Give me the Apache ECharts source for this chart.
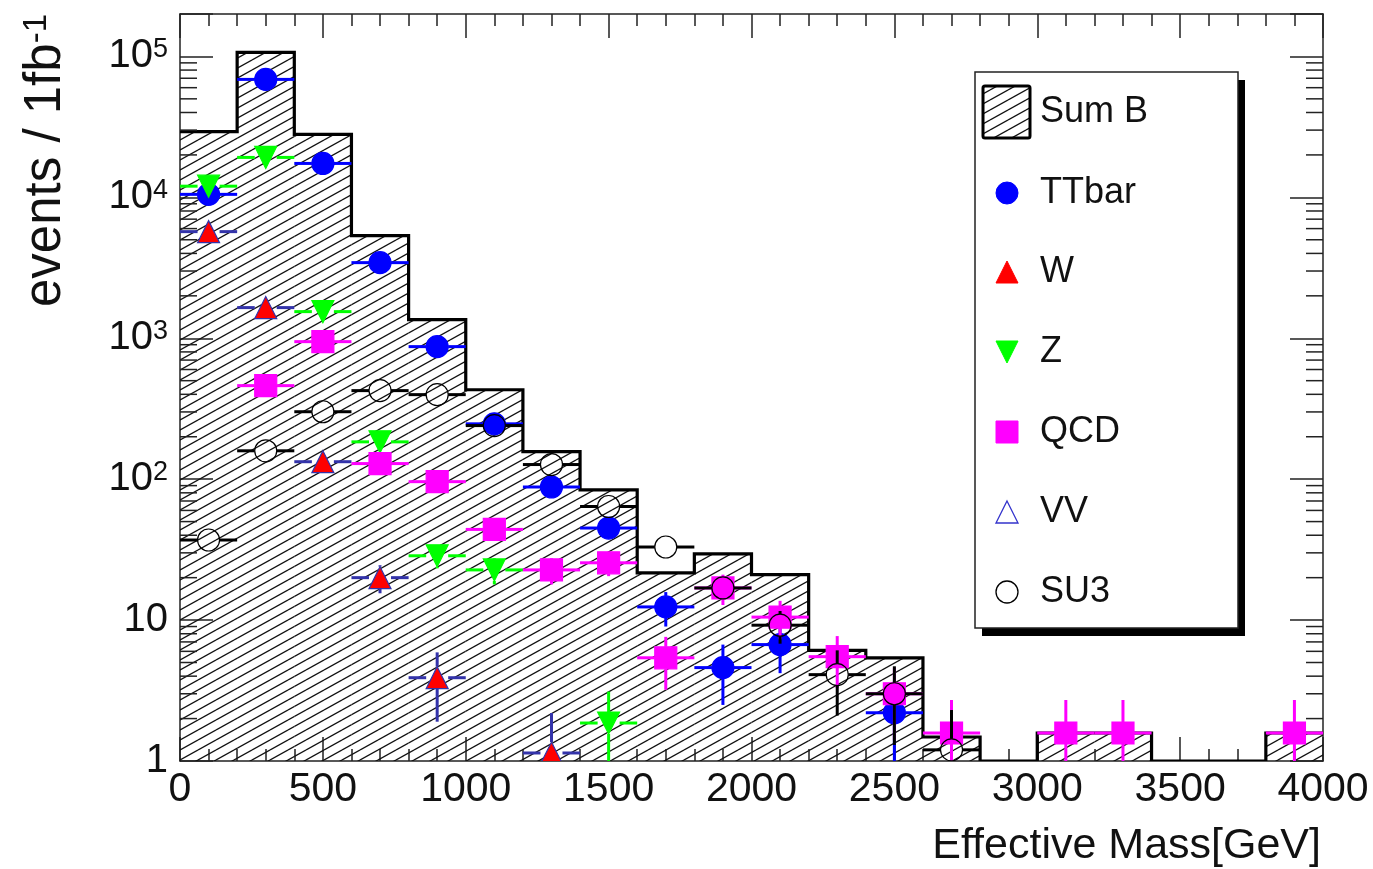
<!DOCTYPE html>
<html><head><meta charset="utf-8">
<script src="https://cdn.jsdelivr.net/npm/echarts@6/dist/echarts.min.js"></script>
<style>html,body{margin:0;padding:0;background:#fff}#c{width:1373px;height:869px}</style>
</head><body><div id="c"></div>
<script>
// ---------------- data ----------------
const binCenters = [100,300,500,700,900,1100,1300,1500,1700,1900,2100,2300,2500,2700,2900,3100,3300,3500,3700,3900];
const binWidth = 200;
const xTickLabels = ['0','500','1000','1500','2000','2500','3000','3500','4000'];
const sumB = [29300,107000,28000,5350,1355,431,157,84,21.6,29.5,21,6.1,5.4,1.48,0,1.58,1.58,0,0,1.58];
const ttbar    = [10500,68700,17400,3440,872,247,88,45,12.4,4.6,6.7,null,2.2,null,null,null,null,null,null,null];
const ttbarErr = [100,260,130,60,30,16,9.4,6.7,3.4,2.1,2.5,null,1.5,null,null,null,null,null,null,null];
const wjets    = [5710,1650,133,20,3.9,null,1.14,null,null,null,null,null,null,null,null,null,null,null,null,null];
const wjetsErr = [75,40,11,4.5,2.0,null,1.05,null,null,null,null,null,null,null,null,null,null,null,null,null];
const zjets    = [12000,19200,1545,184,28.6,22.7,null,1.86,null,null,null,null,null,null,null,null,null,null,null,null];
const zjetsErr = [110,140,40,13.6,5.3,4.8,null,1.25,null,null,null,null,null,null,null,null,null,null,null,null];
const qcd      = [null,461,946,129,96,44,22.7,25.5,5.4,16.9,10.5,5.5,3.0,1.58,null,1.58,1.58,null,null,1.58];
const qcdErr   = [null,21,31,11,9.8,6.6,4.8,5.0,2.2,4.1,3.2,2.2,1.6,1.13,null,1.13,1.13,null,null,1.13];
const vv       = [null,null,null,null,null,null,null,null,null,null,null,null,null,null,null,null,null,null,null,null];
const vvErr    = [null,null,null,null,null,null,null,null,null,null,null,null,null,null,null,null,null,null,null,null];
const su3      = [37,159,301,425,398,240,127,64,33,16.9,9.2,4.1,3.0,1.2,null,null,null,null,null,null];
const su3Err   = [2.4,5,7,8.2,8,6.2,4.5,3.2,2.3,1.6,2.4,2.0,1.7,1.1,null,null,null,null,null,null];
const legendNames = ['Sum B','TTbar','W','Z','QCD','VV','SU3'];
const yTitle = 'events / 1fb';
const xTitle = 'Effective Mass[GeV]';

// ---------------- styling ----------------
const FONT = '"Liberation Sans", Arial, Helvetica, sans-serif';
const Y_MIN = 1, Y_MAX = 200000;

function hatchCanvas(){
  const W = 18, H = 10;
  const c = document.createElement('canvas'); c.width = W; c.height = H;
  const g = c.getContext('2d');
  g.strokeStyle = '#111'; g.lineWidth = 1.3;
  for (const dx of [-W, 0, W]) for (const dy of [-H, 0, H]) {
    g.beginPath(); g.moveTo(dx, dy + H); g.lineTo(dx + W, dy); g.stroke();
  }
  return c;
}
const HATCH = {image: hatchCanvas(), repeat: 'repeat'};

const chart = echarts.init(document.getElementById('c'), null, {renderer: 'canvas'});

function markerShape(kind, cx, cy, s, fill, stroke, lw){
  const h = s / 2;
  if (kind === 'circle') return {type:'circle', shape:{cx, cy, r:h}, style:{fill, stroke, lineWidth:lw}};
  if (kind === 'square') return {type:'rect', shape:{x:cx-h, y:cy-h, width:s, height:s}, style:{fill, stroke, lineWidth:lw}};
  if (kind === 'up') return {type:'polygon', shape:{points:[[cx,cy-h],[cx+h,cy+h],[cx-h,cy+h]]}, style:{fill, stroke, lineWidth:lw}};
  if (kind === 'down') return {type:'polygon', shape:{points:[[cx,cy+h],[cx+h,cy-h],[cx-h,cy-h]]}, style:{fill, stroke, lineWidth:lw}};
}

function pointSeries(name, vals, errs, kind, fill, stroke, barColor, z){
  const data = [];
  vals.forEach((v, i) => { if (v != null) data.push([binCenters[i], v, errs[i] || 0]); });
  return {
    type: 'custom', name, data, z, clip: true,
    encode: {x: 0, y: 1},
    renderItem(params, api){
      const x = api.value(0), y = api.value(1), e = api.value(2);
      const c = api.coord([x, y]);
      const l = api.coord([x - binWidth/2, y]);
      const r = api.coord([x + binWidth/2, y]);
      const hi = api.coord([x, y + e]);
      const lo = api.coord([x, Math.max(y - e, Y_MIN)]);
      const s = 22, h = s/2;
      const ls = {stroke: barColor, lineWidth: 3};
      const ch = [];
      if (c[0] - h > l[0]) ch.push({type:'line', shape:{x1:l[0], y1:c[1], x2:c[0]-h, y2:c[1]}, style:ls});
      if (r[0] > c[0] + h) ch.push({type:'line', shape:{x1:c[0]+h, y1:c[1], x2:r[0], y2:c[1]}, style:ls});
      if (c[1] - hi[1] > h) ch.push({type:'line', shape:{x1:c[0], y1:hi[1], x2:c[0], y2:c[1]-h}, style:ls});
      if (lo[1] - c[1] > h) ch.push({type:'line', shape:{x1:c[0], y1:c[1]+h, x2:c[0], y2:lo[1]}, style:ls});
      ch.push(markerShape(kind, c[0], c[1], s, fill, stroke, 1.2));
      return {type:'group', children: ch};
    }
  };
}

// histogram fill
const histData = [];
sumB.forEach((v, i) => { if (v > Y_MIN) histData.push([binCenters[i], v]); });

const histFill = {
  type:'custom', name:'Sum B', data: histData, z: 1, clip: true,
  encode:{x:0, y:1},
  renderItem(params, api){
    const x = api.value(0), v = api.value(1);
    const p0 = api.coord([x - binWidth/2, v]);
    const p1 = api.coord([x + binWidth/2, Y_MIN]);
    return {type:'rect', shape:{x:p0[0], y:p0[1], width:p1[0]-p0[0], height:p1[1]-p0[1]},
            style:{fill: HATCH, stroke: null}};
  }
};
const histLine = {
  type:'custom', name:'Sum B outline', data:[[0, 1]], z: 2, clip: true,
  encode:{x:0, y:1},
  renderItem(params, api){
    const pts = [];
    sumB.forEach((v, i) => {
      const vv = Math.max(v, Y_MIN);
      pts.push(api.coord([binCenters[i] - binWidth/2, vv]));
      pts.push(api.coord([binCenters[i] + binWidth/2, vv]));
    });
    return {type:'polyline', shape:{points: pts}, style:{stroke:'#000', lineWidth:3.2, fill:null, lineJoin:'miter'}};
  }
};

// log minor ticks (2..9 x 10^k)
const minorVals = [];
for (let k = 0; k < 6; k++) for (let m = 2; m <= 9; m++) { const v = m * Math.pow(10, k); if (v < Y_MAX) minorVals.push([0, v]); }
const minorTicks = {
  type:'custom', name:'minor', data: minorVals, z: 5, silent: true,
  encode:{x:0, y:1},
  renderItem(params, api){
    const v = api.value(1);
    const a = api.coord([0, v]), b = api.coord([4000, v]);
    const st = {stroke:'#222', lineWidth:1.5};
    return {type:'group', children:[
      {type:'line', shape:{x1:a[0], y1:a[1], x2:a[0]+17, y2:a[1]}, style:st},
      {type:'line', shape:{x1:b[0]-17, y1:b[1], x2:b[0], y2:b[1]}, style:st}
    ]};
  }
};

const xAxisBase = {
  type:'value', min:0, max:4000, interval:500,
  axisLine:{show:true, onZero:false, lineStyle:{color:'#222', width:1.5}},
  axisTick:{show:true, inside:true, length:24, lineStyle:{color:'#222', width:1.5}},
  minorTick:{show:true, splitNumber:5, length:12, lineStyle:{color:'#222', width:1.5}},
  splitLine:{show:false}
};
const yAxisBase = {
  type:'log', logBase:10, min:Y_MIN, max:Y_MAX,
  axisLine:{show:true, onZero:false, lineStyle:{color:'#222', width:1.5}},
  axisTick:{show:true, inside:true, length:33, lineStyle:{color:'#222', width:1.5}},
  splitLine:{show:false}
};

const legendX = 975, legendY = 72, legendW = 263, legendH = 556;
const rowY = [112, 193, 272, 352, 432, 512, 592];
const iconX = 1007, textX = 1040;
const legendGraphics = [
  {type:'rect', shape:{x:legendX+7, y:legendY+8, width:legendW, height:legendH}, style:{fill:'#000'}, z:100},
  {type:'rect', shape:{x:legendX, y:legendY, width:legendW, height:legendH}, style:{fill:'#fff', stroke:'#222', lineWidth:1.5}, z:101},
  {type:'rect', shape:{x:983, y:86, width:47, height:52, r:2}, style:{fill:HATCH, stroke:'#000', lineWidth:3}, z:102},
  Object.assign(markerShape('circle', iconX, rowY[1], 22, '#0000ff', '#0000ff', 1), {z:102}),
  Object.assign(markerShape('up', iconX, rowY[2], 22, '#ff0000', '#ff0000', 1), {z:102}),
  Object.assign(markerShape('down', iconX, rowY[3], 22, '#00ff00', '#00ff00', 1), {z:102}),
  Object.assign(markerShape('square', iconX, rowY[4], 22, '#ff00ff', '#ff00ff', 1), {z:102}),
  Object.assign(markerShape('up', iconX, rowY[5], 22, 'rgba(0,0,0,0)', '#3333cc', 1.3), {z:102}),
  Object.assign(markerShape('circle', iconX, rowY[6], 22, 'rgba(0,0,0,0)', '#000', 1.3), {z:102})
];
legendNames.forEach((n, i) => {
  legendGraphics.push({type:'text', x:textX, y:rowY[i], z:103,
    style:{text:n, font:'36px ' + FONT, fill:'#111', textAlign:'left', textVerticalAlign:'middle'}});
});
legendGraphics.push({type:'text', x:1321, y:846, z:103,
  style:{text:xTitle, font:'43px ' + FONT, fill:'#111', textAlign:'right', textVerticalAlign:'middle'}});
legendGraphics.push({type:'text', x:46, y:14, rotation:Math.PI/2, z:103,
  style:{text:yTitle + '{s|-1}', font:'51px ' + FONT, fill:'#111', textAlign:'right', textVerticalAlign:'middle',
         rich:{s:{font:'33px ' + FONT, fill:'#111', verticalAlign:'top'}}}});

chart.setOption({
  backgroundColor:'#fff',
  animation:false,
  textStyle:{fontFamily:FONT},
  grid:{left:180, right:50, top:14, bottom:108, containLabel:false, outerBoundsMode:'none'},
  xAxis:[
    Object.assign({}, xAxisBase, {position:'bottom',
      axisLabel:{show:true, fontSize:41, color:'#111', margin:8, fontFamily:FONT,
        formatter: v => xTickLabels[Math.round(v/500)] }}),
    Object.assign({}, xAxisBase, {position:'top', axisLabel:{show:false}})
  ],
  yAxis:[
    Object.assign({}, yAxisBase, {position:'left',
      axisLabel:{show:true, margin:12, color:'#111', fontFamily:FONT,
        formatter: v => {
          const e = Math.round(Math.log10(v));
          if (Math.abs(v - Math.pow(10, e)) > 1e-6 * v) return '';
          if (e === 0) return '{b|1}';
          if (e === 1) return '{b|10}';
          return '{b|10}{s|' + e + '}';
        },
        rich:{b:{fontSize:40, fontFamily:FONT, color:'#111'}, s:{fontSize:27, fontFamily:FONT, color:'#111', verticalAlign:'top'}}
      }}),
    Object.assign({}, yAxisBase, {position:'right', axisLabel:{show:false}})
  ],
  graphic: legendGraphics,
  series:[
    histFill, histLine,
    pointSeries('TTbar', ttbar, ttbarErr, 'circle', '#0000ff', '#0000ff', '#0000ff', 10),
    pointSeries('W', wjets, wjetsErr, 'up', '#ff0000', '#3333aa', '#3333aa', 11),
    pointSeries('Z', zjets, zjetsErr, 'down', '#00ff00', '#00ff00', '#00ff00', 12),
    pointSeries('QCD', qcd, qcdErr, 'square', '#ff00ff', '#ff00ff', '#ff00ff', 13),
    pointSeries('VV', vv, vvErr, 'up', 'rgba(0,0,0,0)', '#3333cc', '#3333cc', 14),
    pointSeries('SU3', su3, su3Err, 'circle', 'rgba(0,0,0,0)', '#000', '#000', 15),
    minorTicks
  ]
});
</script></body></html>
